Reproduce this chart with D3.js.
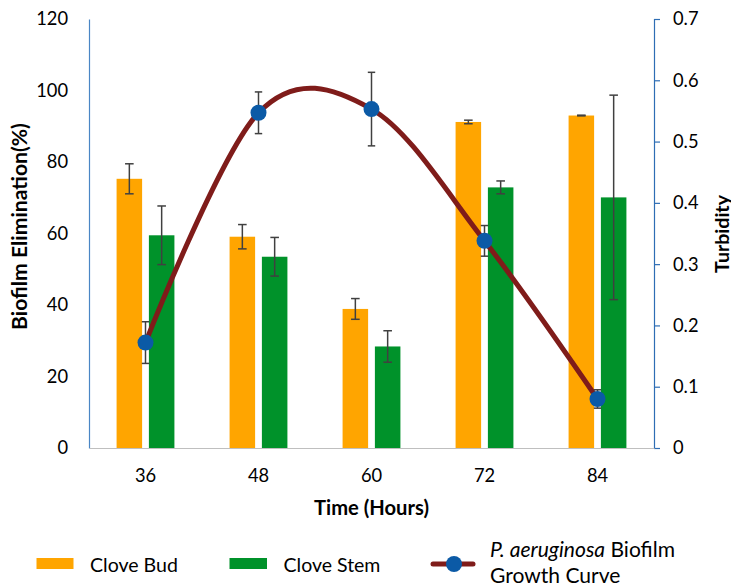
<!DOCTYPE html>
<html>
<head>
<meta charset="utf-8">
<script src="https://cdn.jsdelivr.net/npm/d3@7"></script>
<style>
  html, body { margin: 0; padding: 0; background: #fff; }
  svg { display: block; font-family: Lato, "Open Sans", sans-serif; }
</style>
</head>
<body>
<svg id="chart" width="731" height="584"></svg>
<script>
const categories = ["36", "48", "60", "72", "84"];
const seriesNames = ["Clove Bud", "Clove Stem"];
const budValues = [75.3, 59.1, 38.9, 91.2, 93.0];
const budErrors = [4.2, 3.4, 2.9, 0.5, 0.1];
const stemValues = [59.5, 53.5, 28.4, 72.9, 70.1];
const stemErrors = [8.2, 5.4, 4.4, 1.8, 28.6];
const turbidity = [0.172, 0.547, 0.553, 0.338, 0.080];
const turbidityErrors = [0.034, 0.034, 0.060, 0.025, 0.015];
const leftTicks = [0, 20, 40, 60, 80, 100, 120];
const rightTicks = [0, 0.1, 0.2, 0.3, 0.4, 0.5, 0.6, 0.7];
const lineLabelItalic = "P. aeruginosa";
const lineLabelRest = " Biofilm";
const lineLabel2 = "Growth Curve";

const colors = { "Clove Bud": "#FFA500", "Clove Stem": "#00922A" };
const svg = d3.select("#chart");

// scale a text's font size so its width matches a target width
function fit(sel, target, base) {
  sel.attr("font-size", base);
  const w = sel.node().getComputedTextLength();
  if (w > 0) sel.attr("font-size", base * target / w);
  return sel;
}

const plot = { left: 89, right: 654, top: 19, bottom: 448 };

const x0 = d3.scaleBand().domain(categories).range([plot.left, plot.right]).paddingInner(0).paddingOuter(0);
const x1 = d3.scaleBand().domain(seriesNames).range([0, x0.bandwidth()]).paddingInner(0.21).paddingOuter(0.854);
const yL = d3.scaleLinear().domain([0, 120]).range([plot.bottom, plot.top]);
const yR = d3.scaleLinear().domain([0, 0.7]).range([plot.bottom, plot.top]);

const barData = [];
categories.forEach((c, i) => {
  barData.push({ cat: c, s: "Clove Bud", v: budValues[i], e: budErrors[i] });
  barData.push({ cat: c, s: "Clove Stem", v: stemValues[i], e: stemErrors[i] });
});

// Left axis
const leftAxis = svg.append("g").attr("transform", `translate(${plot.left},0)`)
  .call(d3.axisLeft(yL).tickValues(leftTicks).tickSize(0).tickPadding(21).tickFormat(d3.format("d")));
leftAxis.select(".domain").attr("stroke", "#4A86C5").attr("stroke-width", 1.2);
leftAxis.selectAll("text").attr("font-size", 18.3).attr("fill", "#000").attr("font-family", "Lato");

// Right axis
const rightAxis = svg.append("g").attr("transform", `translate(${plot.right},0)`)
  .call(d3.axisRight(yR).tickValues(rightTicks).tickSize(6).tickSizeOuter(6).tickPadding(13).tickFormat(d => d === 0 ? "0" : d3.format(".1f")(d)));
rightAxis.select(".domain").attr("stroke", "#2E6DB4").attr("stroke-width", 1.2);
rightAxis.selectAll(".tick line").attr("stroke", "#2E6DB4").attr("stroke-width", 1.2);
rightAxis.selectAll("text").attr("font-size", 18.3).attr("fill", "#000").attr("font-family", "Lato");

// Bottom axis
const bottomAxis = svg.append("g").attr("transform", `translate(0,${plot.bottom})`)
  .call(d3.axisBottom(x0).tickSize(0).tickPadding(21));
bottomAxis.select(".domain").attr("stroke", "#BFBFBF").attr("stroke-width", 1.2);
bottomAxis.selectAll("text").attr("font-size", 18.3).attr("fill", "#000").attr("font-family", "Lato");

// Bars
svg.append("g").selectAll("rect").data(barData).join("rect")
  .attr("x", d => x0(d.cat) + x1(d.s))
  .attr("y", d => yL(d.v))
  .attr("width", x1.bandwidth())
  .attr("height", d => yL(0) - yL(d.v))
  .attr("fill", d => colors[d.s]);

// Bar error bars
const capW = 4.3;
const eb = svg.append("g").attr("stroke", "#404040").attr("stroke-width", 1.5);
barData.forEach(d => {
  const cx = x0(d.cat) + x1(d.s) + x1.bandwidth() / 2;
  const y1 = yL(d.v + d.e), y2 = yL(d.v - d.e);
  eb.append("line").attr("x1", cx).attr("x2", cx).attr("y1", y1).attr("y2", y2);
  eb.append("line").attr("x1", cx - capW).attr("x2", cx + capW).attr("y1", y1).attr("y2", y1);
  eb.append("line").attr("x1", cx - capW).attr("x2", cx + capW).attr("y1", y2).attr("y2", y2);
});

// Line
const pts = categories.map((c, i) => ({ x: x0(c) + x0.bandwidth() / 2, v: turbidity[i], e: turbidityErrors[i] }));
const line = d3.line().x(d => d.x).y(d => yR(d.v)).curve(d3.curveCardinal.tension(0));
svg.append("path").datum(pts).attr("d", line)
  .attr("fill", "none").attr("stroke", "#7F1C1A").attr("stroke-width", 5).attr("stroke-linecap", "round");

const leb = svg.append("g").attr("stroke", "#404040").attr("stroke-width", 1.5);
pts.forEach(d => {
  const y1 = yR(d.v + d.e), y2 = yR(d.v - d.e);
  leb.append("line").attr("x1", d.x).attr("x2", d.x).attr("y1", y1).attr("y2", y2);
  leb.append("line").attr("x1", d.x - 3.7).attr("x2", d.x + 3.7).attr("y1", y1).attr("y2", y1);
  leb.append("line").attr("x1", d.x - 3.7).attr("x2", d.x + 3.7).attr("y1", y2).attr("y2", y2);
});

svg.append("g").selectAll("circle").data(pts).join("circle")
  .attr("cx", d => d.x).attr("cy", d => yR(d.v)).attr("r", 8).attr("fill", "#0B5AA6");

// Axis titles
fit(svg.append("text").attr("transform", `translate(27,226.5) rotate(-90)`)
  .attr("text-anchor", "middle").attr("font-weight", "bold").attr("fill", "#000")
  .text("Biofilm Elimination(%)"), 207, 18);
fit(svg.append("text").attr("transform", `translate(728.5,234) rotate(-90)`)
  .attr("text-anchor", "middle").attr("font-weight", "bold").attr("fill", "#000")
  .text("Turbidity"), 78, 18);
fit(svg.append("text").attr("x", (plot.left + plot.right) / 2).attr("y", 515)
  .attr("text-anchor", "middle").attr("font-weight", "bold").attr("fill", "#000")
  .text("Time (Hours)"), 115, 18);

// Legend
const lg = svg.append("g").attr("fill", "#000");
lg.append("rect").attr("x", 36.5).attr("y", 558).attr("width", 37).attr("height", 11).attr("fill", colors["Clove Bud"]);
fit(lg.append("text").attr("x", 90).attr("y", 572).text(seriesNames[0]), 88, 18);
lg.append("rect").attr("x", 229.5).attr("y", 558).attr("width", 37.5).attr("height", 11).attr("fill", colors["Clove Stem"]);
fit(lg.append("text").attr("x", 283.5).attr("y", 572).text(seriesNames[1]), 97, 18);
lg.append("line").attr("x1", 433).attr("x2", 473).attr("y1", 564).attr("y2", 564)
  .attr("stroke", "#7F1C1A").attr("stroke-width", 5).attr("stroke-linecap", "round");
lg.append("circle").attr("cx", 454).attr("cy", 564).attr("r", 8).attr("fill", "#0B5AA6");
const t1 = lg.append("text").attr("x", 490).attr("y", 557);
t1.append("tspan").attr("font-style", "italic").text(lineLabelItalic);
t1.append("tspan").text(lineLabelRest);
fit(t1, 185, 18);
lg.append("text").attr("x", 490).attr("y", 583).attr("font-size", t1.attr("font-size")).text(lineLabel2);
</script>
</body>
</html>
